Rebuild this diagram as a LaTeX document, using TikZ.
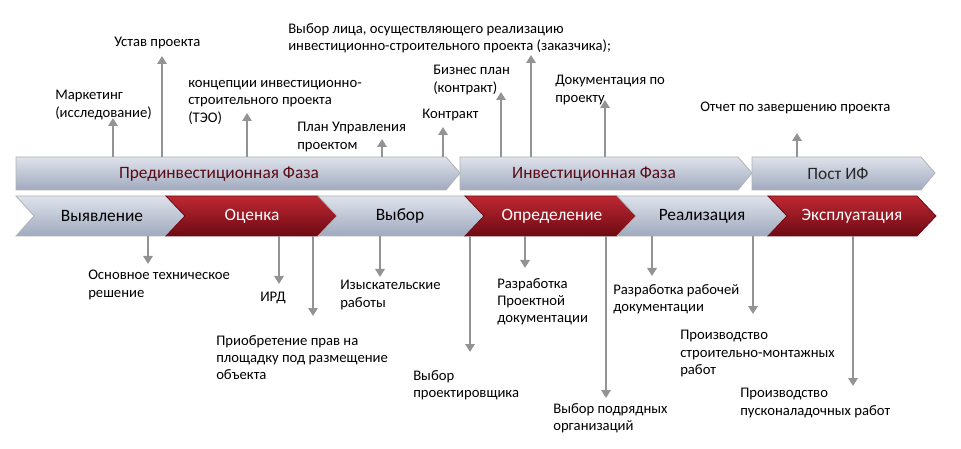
\documentclass[tikz,border=0pt]{standalone}
\usepackage{fontspec}
\setmainfont{Carlito}
\usetikzlibrary{arrows.meta}
\definecolor{bandA}{RGB}{222,226,236}
\definecolor{bandB}{RGB}{160,170,190}
\definecolor{redA}{RGB}{190,40,50}
\definecolor{redB}{RGB}{110,10,20}
\definecolor{txtred}{RGB}{90,10,20}
\tikzset{
 lbl/.style={anchor=north west,align=left,inner sep=0pt,font=\fontsize{11}{13}\selectfont},
 conn/.style={draw=gray!85,line width=2pt,-{Triangle[width=7pt,length=6pt]}},
 lightfill/.style={top color=bandA,bottom color=bandB,draw=gray!60,line width=0.6pt},
 redfill/.style={top color=redA,bottom color=redB,draw=redB,line width=0.6pt},
 btxt/.style={inner sep=0pt,font=\fontsize{13}{15}\selectfont},
}
\begin{document}
\begin{tikzpicture}[x=0.75pt,y=-0.75pt]
\useasboundingbox (0,0) rectangle (961,449);
% top bands
\path[lightfill] (16,157)--(446,157)--(460,173)--(446,190)--(16,190)--cycle;
\path[lightfill] (460,157)--(738,157)--(752,173)--(738,190)--(460,190)--cycle;
\path[lightfill] (752,157)--(921,157)--(935,173)--(921,190)--(752,190)--cycle;
\node[btxt,text=txtred] (p1) at (219,174) {Прединвестиционная Фаза};
\node[btxt,text=txtred] (p2) at (594,174) {Инвестиционная Фаза};
\node[btxt,text=black!85] (p3) at (838,174) {Пост ИФ};
% chevrons
\path[lightfill] (16,196)--(166,196)--(185,216)--(166,236)--(16,236)--(34,216)--cycle;
\path[redfill] (166,196)--(318,196)--(337,216)--(318,236)--(166,236)--(185,216)--cycle;
\path[lightfill] (318,196)--(465,196)--(484,216)--(465,236)--(318,236)--(337,216)--cycle;
\path[redfill] (465,196)--(617,196)--(636,216)--(617,236)--(465,236)--(484,216)--cycle;
\path[lightfill] (617,196)--(768,196)--(787,216)--(768,236)--(617,236)--(636,216)--cycle;
\path[redfill] (768,196)--(917,196)--(936,216)--(917,236)--(768,236)--(787,216)--cycle;
\node[btxt,text=black] (c1) at (102,216) {Выявление};
\node[btxt,text=white] (c2) at (252,216) {Оценка};
\node[btxt,text=black] (c3) at (400,216) {Выбор};
\node[btxt,text=white] (c4) at (552,216) {Определение};
\node[btxt,text=black] (c5) at (702,216) {Реализация};
\node[btxt,text=white] (c6) at (852,216) {Эксплуатация};
% top labels
\node[lbl] (t1) at (55,90) {Маркетинг\\(исследование)};
\node[lbl] (t2) at (114,37) {Устав проекта};
\node[lbl] (t3) at (188,80) {концепции инвестиционно-\\строительного проекта\\(ТЭО)};
\node[lbl] (t4) at (297,122) {План Управления\\проектом};
\node[lbl] (t5) at (422,109) {Контракт};
\node[lbl] (t6) at (433,65) {Бизнес план\\(контракт)};
\node[lbl] (t7) at (288,23) {Выбор лица, осуществляющего реализацию\\инвестиционно-строительного проекта (заказчика);};
\node[lbl] (t8) at (555,75) {Документация по\\проекту};
\node[lbl] (t9) at (700,102) {Отчет по завершению проекта};
% bottom labels
\node[lbl] (b1) at (88,270) {Основное техническое\\решение};
\node[lbl] (b2) at (260,292) {ИРД};
\node[lbl] (b3) at (216,335) {Приобретение прав на\\площадку под размещение\\объекта};
\node[lbl] (b4) at (340,280) {Изыскательские\\работы};
\node[lbl] (b5) at (413,370) {Выбор\\проектировщика};
\node[lbl] (b6) at (497,278) {Разработка\\Проектной\\документации};
\node[lbl] (b7) at (553,403) {Выбор подрядных\\организаций};
\node[lbl] (b8) at (613,284) {Разработка рабочей\\документации};
\node[lbl] (b9) at (680,330) {Производство\\строительно-монтажных\\работ};
\node[lbl] (b10) at (740,388) {Производство\\пусконаладочных работ};
% anchor points
\foreach \n/\x in {u1/113,u2/162,u3/247,u4/382,u5/443,u6/501,u7/531,u8/605,u9/797}
  \coordinate (\n) at (\x,157);
\foreach \n/\x in {d1/148,d2/279,d3/313,d4/380,d5/470,d6/525,d7/606,d8/652,d9/753,d10/853}
  \coordinate (\n) at (\x,236);
\draw[conn] (u1) -- (u1 |- 0,118) coordinate (e1);
\draw[conn] (u2) -- (u2 |- 0,56);
\draw[conn] (u3) -- (u3 |- 0,113);
\draw[conn] (u4) -- (u4 |- 0,139);
\draw[conn] (u5) -- (u5 |- 0,127);
\draw[conn] (u6) -- (u6 |- 0,92);
\draw[conn] (u7) -- (u7 |- 0,55);
\draw[conn] (u8) -- (u8 |- 0,100);
\draw[conn] (u9) -- (u9 |- 0,133);
\draw[conn] (d1) -- (d1 |- 0,264);
\draw[conn] (d2) -- (d2 |- 0,284);
\draw[conn] (d3) -- (d3 |- 0,316);
\draw[conn] (d4) -- (d4 |- 0,277);
\draw[conn] (d5) -- (d5 |- 0,352);
\draw[conn] (d6) -- (d6 |- 0,268);
\draw[conn] (d7) -- (d7 |- 0,398);
\draw[conn] (d8) -- (d8 |- 0,276);
\draw[conn] (d9) -- (d9 |- 0,314);
\draw[conn] (d10) -- (d10 |- 0,386);
\end{tikzpicture}
\end{document}
